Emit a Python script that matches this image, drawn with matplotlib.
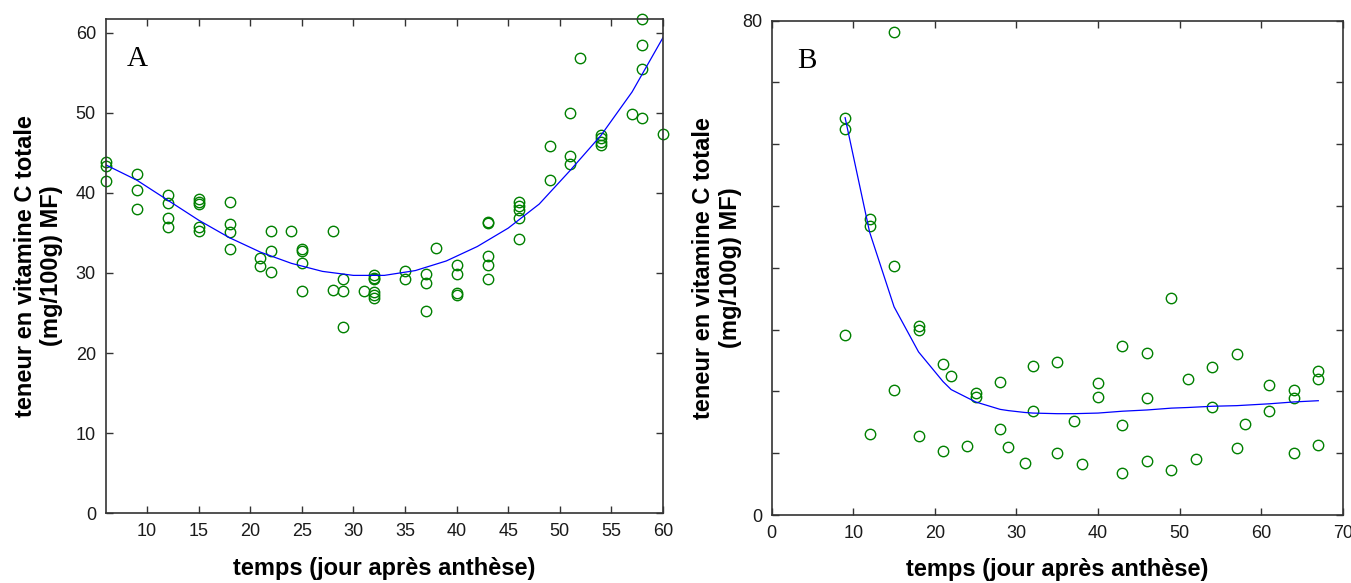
import matplotlib.pyplot as plt
import numpy as np

# panel A : points (jour, teneur)
a_x = [6, 6, 6, 9, 9, 9, 12, 12, 12, 12, 15, 15, 15, 15, 15,
       18, 18, 18, 18, 21, 21, 22, 22, 22, 24, 25, 25, 25, 25,
       28, 28, 29, 29, 29, 31, 32, 32, 32, 32, 32, 32,
       35, 35, 37, 37, 37, 38, 40, 40, 40, 40,
       43, 43, 43, 43, 43, 46, 46, 46, 46, 46,
       49, 49, 51, 51, 51, 52, 54, 54, 54, 54, 57, 58, 58, 58, 58, 60]
a_y = [43.9, 43.4, 41.5, 42.4, 40.3, 38.0, 39.7, 38.7, 36.8, 35.8,
       39.2, 38.9, 38.6, 35.7, 35.3,
       38.8, 36.1, 35.1, 33.0, 31.9, 30.9, 35.2, 32.8, 30.1, 35.3,
       33.0, 32.7, 31.3, 27.7,
       35.2, 27.9, 29.2, 27.7, 23.2, 27.7,
       29.7, 29.4, 29.2, 27.6, 27.3, 26.9,
       30.3, 29.3, 29.9, 28.8, 25.3, 33.1, 31.0, 29.9, 27.5, 27.3,
       36.4, 36.2, 32.1, 31.0, 29.2, 38.9, 38.4, 37.9, 36.8, 34.2,
       45.9, 41.6, 50.0, 44.6, 43.6, 56.8, 47.2, 46.8, 46.3, 46.0,
       49.8, 61.7, 58.4, 55.5, 49.4, 47.4]

# courbe ajustee A
a_fit_x = [6, 9, 12, 15, 18, 21, 24, 27, 30, 33, 36, 39, 42, 45, 48, 51, 54, 57, 60]
a_fit_y = [43.5, 41.6, 39.1, 36.6, 34.4, 32.6, 31.2, 30.2, 29.7, 29.7, 30.3,
           31.5, 33.3, 35.6, 38.6, 42.8, 47.2, 52.6, 59.4]

# panel B : points
b_x = [9, 9, 9, 12, 12, 12, 15, 15, 15, 18, 18, 18, 21, 21, 22, 24, 25, 25,
       28, 28, 29, 31, 32, 32, 35, 35, 37, 38, 40, 40, 43, 43, 43,
       46, 46, 46, 49, 49, 51, 52, 54, 54, 57, 57, 58, 61, 61,
       64, 64, 64, 67, 67, 67]
b_y = [64.3, 62.4, 29.2, 47.9, 46.7, 13.1, 78.1, 40.3, 20.3, 30.6, 29.9, 12.8,
       24.4, 10.3, 22.5, 11.2, 19.8, 19.1,
       21.6, 14.0, 11.0, 8.5, 24.1, 16.9, 24.8, 10.1, 15.2, 8.2, 21.3, 19.1,
       27.3, 14.6, 6.8, 26.2, 19.0, 8.7, 35.1, 7.3, 22.0, 9.0, 23.9, 17.5,
       26.0, 10.8, 14.8, 21.0, 16.8, 20.2, 19.0, 10.1, 23.3, 22.0, 11.3]

# courbe ajustee B
b_fit_x = [9, 12, 15, 18, 21, 22, 25, 28, 29, 31, 32, 35, 37, 40, 43, 46,
           49, 51, 54, 57, 61, 64, 67]
b_fit_y = [64.3, 45.8, 33.7, 26.4, 21.6, 20.3, 18.3, 17.1, 16.9, 16.6, 16.5,
           16.4, 16.4, 16.5, 16.8, 17.0, 17.3, 17.4, 17.6, 17.7, 18.0, 18.3, 18.5]

ylabel = "teneur en vitamine C totale\n(mg/100g) MF)"
xlabel = "temps (jour après anthèse)"

tick_font = ['Liberation Sans Narrow', 'Liberation Sans', 'DejaVu Sans']
lab_font = ['Liberation Sans', 'DejaVu Sans']
green = (0.0, 0.5, 0.0)
spine_c = '#333333'

fig = plt.figure(figsize=(13.51, 5.83), dpi=100)
axA = fig.add_axes([0.0782, 0.1195, 0.4126, 0.8479])
axB = fig.add_axes([0.5712, 0.1166, 0.4227, 0.8479])


def style(ax):
    for s in ax.spines.values():
        s.set_color(spine_c)
        s.set_linewidth(1.2)
    ax.tick_params(direction='in', length=5, width=1.0, color=spine_c,
                   top=True, right=True, labelsize=13, labelcolor='#1a1a1a', pad=7)
    for lab in ax.get_xticklabels() + ax.get_yticklabels():
        lab.set_family(tick_font)


# A
axA.plot(a_x, a_y, 'o', mfc='none', mec=green, ms=7.5, mew=1.0, clip_on=False)
axA.plot(a_fit_x, a_fit_y, '-', color='blue', lw=0.9)
axA.set_xlim(6, 60)
axA.set_ylim(0, 61.7)
axA.set_xticks(np.arange(10, 61, 5))
axA.set_yticks(np.arange(0, 61, 10))
style(axA)
axA.text(0.038, 0.905, "A", transform=axA.transAxes, fontsize=21,
         family='Liberation Serif')
axA.set_xlabel(xlabel, fontsize=17, fontweight='bold', family=lab_font, labelpad=12)
axA.set_ylabel(ylabel, fontsize=17, fontweight='bold', family=lab_font, labelpad=9,
               linespacing=1.2)

# B
axB.plot(b_x, b_y, 'o', mfc='none', mec=green, ms=7.5, mew=1.0, clip_on=False)
axB.plot(b_fit_x, b_fit_y, '-', color='blue', lw=0.9)
axB.set_xlim(0, 70)
axB.set_ylim(0, 80)
axB.set_xticks(np.arange(0, 71, 10))
axB.set_yticks(np.arange(0, 81, 10))
axB.set_yticklabels(['0', '', '', '', '', '', '', '', '80'])
style(axB)
axB.text(0.045, 0.905, "B", transform=axB.transAxes, fontsize=21,
         family='Liberation Serif')
axB.set_xlabel(xlabel, fontsize=17, fontweight='bold', family=lab_font, labelpad=12)
axB.set_ylabel(ylabel, fontsize=17, fontweight='bold', family=lab_font, labelpad=0,
               linespacing=1.2)

fig.savefig("out.png", dpi=100)
